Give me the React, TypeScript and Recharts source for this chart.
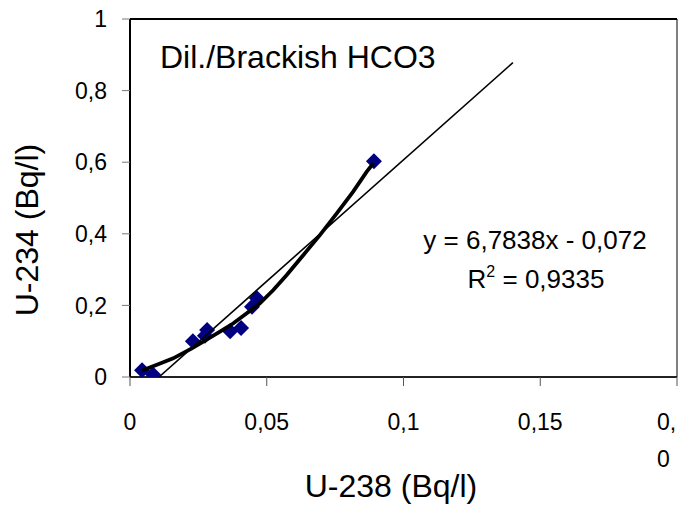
import {
  ComposedChart,
  Scatter,
  XAxis,
  YAxis,
  ReferenceLine,
  Customized,
} from "recharts";

const FONT = "'Liberation Sans', Arial, sans-serif";

// measured U-238 / U-234 activities
const u238 = [0.0044, 0.0084, 0.023, 0.0274, 0.0282, 0.0366, 0.0406, 0.0446, 0.0464, 0.0892];
const u234 = [0.019, 0.007, 0.1, 0.115, 0.131, 0.128, 0.137, 0.196, 0.22, 0.603];

// thick smoothed trend through the points
const smoothX = [0.0044, 0.011, 0.0158, 0.0226, 0.0268, 0.0329, 0.0378, 0.0427, 0.0475, 0.0524, 0.0573, 0.0634, 0.0695, 0.0756, 0.0816, 0.0865, 0.089];
const smoothY = [0.018, 0.038, 0.052, 0.08, 0.099, 0.127, 0.15, 0.178, 0.206, 0.243, 0.285, 0.341, 0.397, 0.457, 0.518, 0.573, 0.597];

// linear trend (y = 6,7838x - 0,072), endpoints as drawn
const linX = [0.0106, 0.14];
const linY = [0, 0.878];

const xTicks = [0, 0.05, 0.1, 0.15, 0.2];
const yTicks = [0, 0.2, 0.4, 0.6, 0.8, 1];

const pts = u238.map((x, i) => ({ x, y: u234[i] }));
const smooth = smoothX.map((x, i) => ({ x, y: smoothY[i] }));
const linear = linX.map((x, i) => ({ x, y: linY[i] }));

const fmt = (v: number) => String(v).replace(".", ",");

const Diamond = (p: any) => {
  const { cx, cy } = p;
  const r = 8;
  return (
    <polygon
      points={`${cx},${cy - r} ${cx + r},${cy} ${cx},${cy + r} ${cx - r},${cy}`}
      fill="#000080"
    />
  );
};

const XTick = (p: any) => {
  const { x, y, payload } = p;
  const v = payload.value;
  // last label doesn't fit at the edge: it shows as "0," with a wrapped "0" below
  if (v === 0.2) {
    return (
      <g fontSize={23} fontFamily={FONT} fill="#000">
        <text x={657} y={y + 44} textAnchor="start">0,</text>
        <text x={657} y={467} textAnchor="start">0</text>
      </g>
    );
  }
  return (
    <text x={x} y={y + 44} textAnchor="middle" fontSize={23} fontFamily={FONT} fill="#000">
      {fmt(v)}
    </text>
  );
};

const Texts = () => (
  <g fontFamily={FONT} fill="#000">
    <text x={160} y={68} fontSize={32}>
      Dil./Brackish HCO3
    </text>
    <text x={535} y={249} fontSize={26} textAnchor="middle">
      y = 6,7838x - 0,072
    </text>
    <text x={536} y={288} fontSize={26} textAnchor="middle">
      R<tspan fontSize={16} dy={-11}>2</tspan>
      <tspan dy={11}> = 0,9335</tspan>
    </text>
    <text x={391} y={497} fontSize={32} textAnchor="middle">
      U-238 (Bq/l)
    </text>
    <text x={38} y={230} fontSize={32} textAnchor="middle" transform="rotate(-90, 38, 230)">
      U-234 (Bq/l)
    </text>
  </g>
);

export default function App() {
  return (
    <div style={{ position: "fixed", left: 0, top: 0, width: 678, height: 510, background: "#fff" }}>
      <ComposedChart width={678} height={510} margin={{ top: 19, right: 1, bottom: 0, left: 0 }}>
        <XAxis
          type="number"
          dataKey="x"
          domain={[0, 0.2]}
          ticks={xTicks}
          allowDataOverflow
          height={133}
          tickSize={9}
          tickMargin={0}
          tick={<XTick />}
          axisLine={{ stroke: "#222", strokeWidth: 2 }}
          tickLine={{ stroke: "#555" }}
        />
        <YAxis
          type="number"
          dataKey="y"
          domain={[0, 1]}
          ticks={yTicks}
          allowDataOverflow
          width={130}
          tickSize={8}
          tickMargin={15}
          tickFormatter={fmt}
          tick={{ fill: "#000", fontSize: 23, fontFamily: FONT }}
          axisLine={{ stroke: "#000", strokeWidth: 2 }}
          tickLine={{ stroke: "#777" }}
        />
        <ReferenceLine y={1} stroke="#000" strokeWidth={2} />
        <ReferenceLine x={0.2} stroke="#000" strokeWidth={1} />

        <Scatter data={pts} shape={<Diamond />} isAnimationActive={false} />
        <Scatter
          data={linear}
          line={{ stroke: "#000", strokeWidth: 1.6 }}
          shape={() => <g />}
          isAnimationActive={false}
        />
        <Scatter
          data={smooth}
          line={{ stroke: "#000", strokeWidth: 3.8 }}
          shape={() => <g />}
          isAnimationActive={false}
        />
        <Customized component={Texts} />
      </ComposedChart>
    </div>
  );
}
